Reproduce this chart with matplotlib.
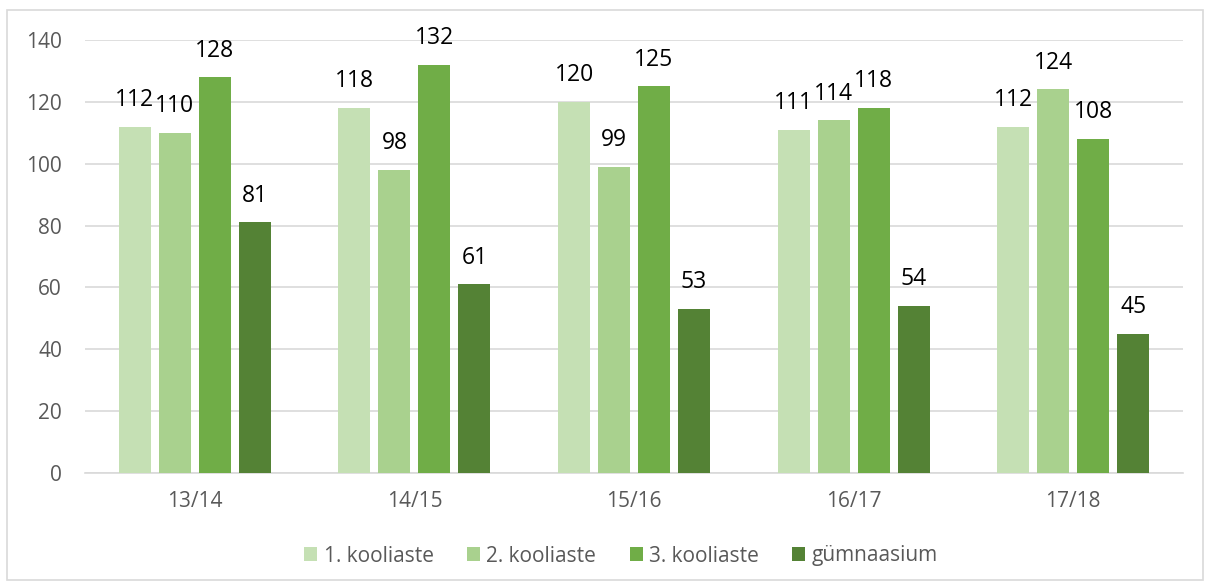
import matplotlib.pyplot as plt
import numpy as np
from matplotlib.patches import Rectangle

seasons = ["13/14", "14/15", "15/16", "16/17", "17/18"]
series_names = ["1. kooliaste", "2. kooliaste", "3. kooliaste", "gümnaasium"]
kooliaste_1 = [112, 118, 120, 111, 112]
kooliaste_2 = [110, 98, 99, 114, 124]
kooliaste_3 = [128, 132, 125, 118, 108]
gymnaasium = [81, 61, 53, 54, 45]
colors = ["#c5e0b4", "#a9d18e", "#70ad47", "#548235"]

plt.rcParams["font.family"] = ["Open Sans", "DejaVu Sans"]

fig = plt.figure(figsize=(12.06, 5.85), dpi=100)
ax = fig.add_axes([85 / 1206, 1 - 473 / 585, (1183 - 85) / 1206, (473 - 40) / 585])

x = np.arange(len(seasons))
width = 0.146
step = 0.182
all_series = [kooliaste_1, kooliaste_2, kooliaste_3, gymnaasium]
for i, (vals, name, col) in enumerate(zip(all_series, series_names, colors)):
    pos = x + (i - 1.5) * step
    bars = ax.bar(pos, vals, width, color=col, label=name, zorder=3)
    for b, v in zip(bars, vals):
        ax.annotate(str(v), (b.get_x() + b.get_width() / 2, v),
                    xytext=(0, 10.5), textcoords="offset points",
                    ha="center", va="bottom", fontsize=16.5, color="black")

ax.set_xlim(-0.5, len(seasons) - 0.5)
ax.set_ylim(0, 140)
ax.set_yticks(range(0, 141, 20))
ax.set_xticks(x)
ax.set_xticklabels(seasons)
ax.grid(axis="y", color="#d9d9d9", linewidth=1.2, zorder=0)
for s in ["top", "right", "left"]:
    ax.spines[s].set_visible(False)
ax.spines["bottom"].set_color("#d9d9d9")
ax.spines["bottom"].set_linewidth(1.2)
ax.tick_params(axis="both", length=0, colors="#595959", labelsize=15)
ax.tick_params(axis="x", pad=13)
ax.tick_params(axis="y", pad=16.5)

fig.legend(loc="center", bbox_to_anchor=(621 / 1206, 1 - 556 / 585), ncol=4,
           frameon=False, fontsize=15, handlelength=0.63, handleheight=0.63,
           handletextpad=0.3, columnspacing=1.6, labelcolor="#595959")

fig.patches.append(Rectangle((7 / 1206, 1 - 580 / 585), 1196 / 1206, 570 / 585,
                             transform=fig.transFigure, fill=False,
                             edgecolor="#d9d9d9", linewidth=1.2))

fig.savefig("out.png", dpi=100)
